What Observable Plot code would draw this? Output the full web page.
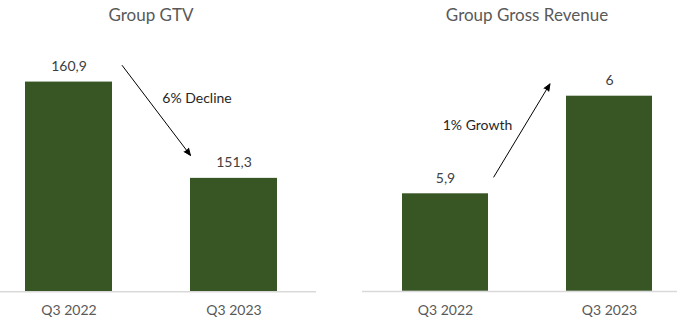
<!DOCTYPE html>
<html><head><meta charset="utf-8">
<script src="https://cdn.jsdelivr.net/npm/d3@7"></script>
<script src="https://cdn.jsdelivr.net/npm/@observablehq/plot@0.6"></script>
<style>
body{margin:0;background:#fff;font-family:Lato,sans-serif;}
#wrap{position:relative;width:677px;height:323px;overflow:hidden}
.panel{position:absolute;top:0}
.title{position:absolute;top:4px;font-size:17px;color:#595959;transform:translateX(-50%);white-space:nowrap;font-family:Lato,sans-serif}
</style></head><body>
<div id="wrap"></div>
<script>
// ---- data ----
const periods = ["Q3 2022", "Q3 2023"];
const gtvValues = [160.9, 151.3];
const revenueValues = [5.9, 6];
const titles = ["Group GTV", "Group Gross Revenue"];
const changeLabels = ["6% Decline", "1% Growth"];
const gtvBaseline = 140;
const revenueBaseline = 5.8;
// arrow endpoints (data units, along band centres) and change-label heights
const gtvArrowY = [169.54, 147.87];
const revenueArrowY = [5.83525, 6.11373];
const gtvChangeLabelY = 159.23;
const revenueChangeLabelY = 5.97;

const fmt = v => v.toLocaleString("de-DE");

function panel(cfg) {
  const data = periods.map((p, i) => ({period: p, value: cfg.values[i]}));
  const arrow = [{from: periods[0], to: periods[1], y1: cfg.arrowY[0], y2: cfg.arrowY[1]}];
  return Plot.plot({
    width: cfg.width, height: 323,
    marginTop: 0, marginBottom: 32, marginLeft: cfg.marginLeft, marginRight: cfg.marginRight,
    style: {fontFamily: "Lato, sans-serif", background: "transparent", overflow: "visible"},
    x: {domain: periods, range: cfg.xRange, paddingInner: 0.473, paddingOuter: 0.1515, label: null},
    y: {domain: cfg.yDomain, range: cfg.yRange, axis: null},
    marks: [
      Plot.barY(data, {x: "period", y1: cfg.baseline, y2: "value", fill: "#375623"}),
      Plot.ruleY([cfg.baseline], {stroke: "#d9d9d9", strokeWidth: 1.5}),
      Plot.text(data, {x: "period", y: "value", text: d => fmt(d.value), dy: -15.5,
        lineAnchor: "middle", fontSize: 14, fill: "#404040"}),
      Plot.arrow(arrow, {x1: "from", x2: "to", y1: "y1", y2: "y2",
        insetStart: cfg.insets[0], insetEnd: cfg.insets[1],
        stroke: "#000", fill: "#000", strokeWidth: 1, headLength: 11, headAngle: 45}),
      Plot.text([cfg.changeLabel], {x: () => cfg.labelBand, y: () => cfg.changeLabelY,
        text: d => d, dx: cfg.labelDx, lineAnchor: "middle", fontSize: 14, fill: "#262626"}),
      Plot.axisX({tickSize: 0, tickPadding: 14, fontSize: 14, fill: "#595959", label: null})
    ]
  });
}

const wrap = document.getElementById("wrap");

const left = panel({
  values: gtvValues, baseline: gtvBaseline, width: 340, marginLeft: 0, marginRight: 24,
  xRange: [0, 302], yDomain: [gtvBaseline, 160], yRange: [291.2, 90.6],
  arrowY: gtvArrowY, insets: [88, 72],
  changeLabel: changeLabels[0], changeLabelY: gtvChangeLabelY, labelBand: periods[1], labelDx: -37
});
left.classList.add("panel"); left.style.left = "0px";
wrap.appendChild(left);

const right = panel({
  values: revenueValues, baseline: revenueBaseline, width: 337, marginLeft: 22, marginRight: 0,
  xRange: [36.7, 338], yDomain: [revenueBaseline, 6], yRange: [290.9, 95.7],
  arrowY: revenueArrowY, insets: [93.4, 115.3],
  changeLabel: changeLabels[1], changeLabelY: revenueChangeLabelY, labelBand: periods[0], labelDx: 32
});
right.classList.add("panel"); right.style.left = "340px";
wrap.appendChild(right);

[[titles[0], 151], [titles[1], 527]].forEach(([t, cx]) => {
  const d = document.createElement("div");
  d.className = "title"; d.textContent = t; d.style.left = cx + "px";
  wrap.appendChild(d);
});
</script>
</body></html>
